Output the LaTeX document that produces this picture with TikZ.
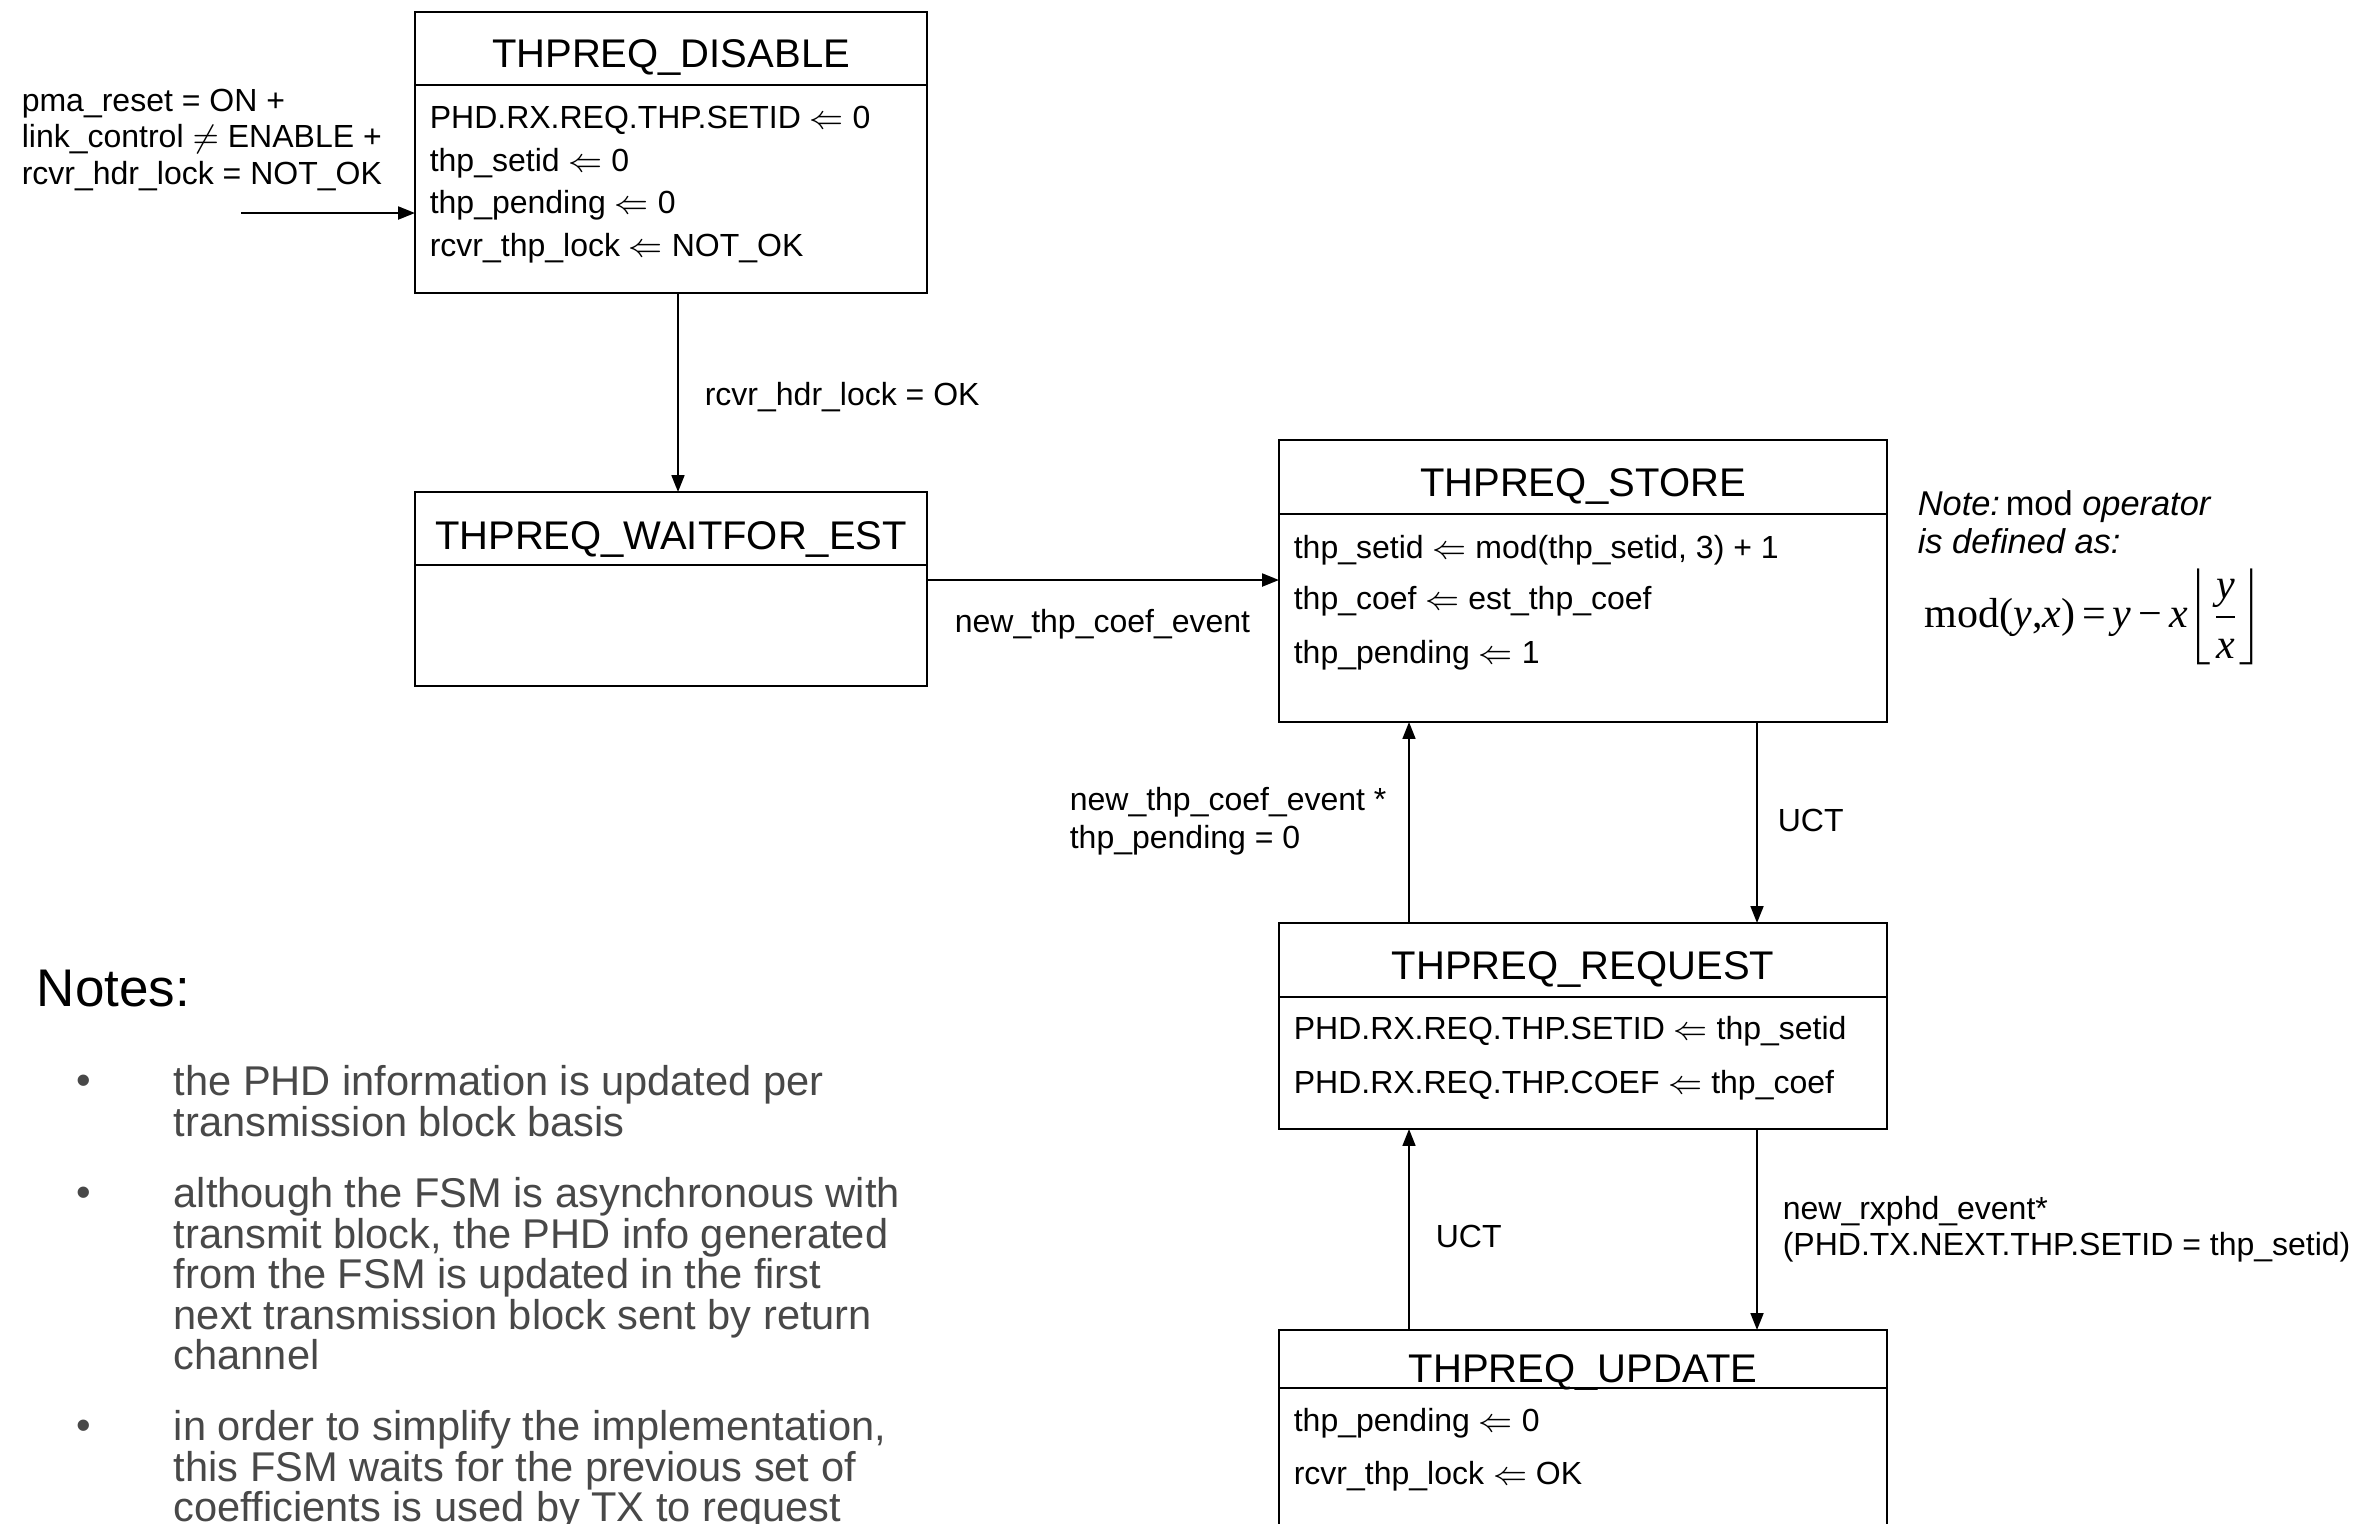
\documentclass[tikz,border=0pt]{standalone}
\usepackage{fontspec}
\setmainfont{Liberation Sans}
\newfontfamily\tmsfont{Liberation Serif}
\usetikzlibrary{arrows.meta,calc}
\definecolor{notegray}{RGB}{72,72,72}
\begin{document}
\begin{tikzpicture}[x=0.25pt,y=-0.25pt,
  stbox/.style={draw,line width=0.6pt,anchor=north west,inner sep=0pt,outer sep=0pt,minimum width=#1},
  divider/.style={line width=0.6pt},
  row/.style={anchor=west,inner sep=0pt,font=\fontsize{8}{9.6}\selectfont,text height=5.73pt,text depth=0pt},
  ttl/.style={anchor=center,inner sep=0pt,font=\fontsize{10}{12}\selectfont,text height=7.16pt,text depth=0pt},
  lbl/.style={anchor=north west,inner sep=0pt,align=left},
  arr/.style={-{Triangle[length=4.2pt,width=3.2pt]},line width=0.5pt},
  nb/.style={anchor=north west,inner sep=0pt,align=left,text=notegray,font=\fontsize{10.4}{10.1}\selectfont},
  dot/.style={anchor=west,inner sep=0pt,text=notegray,font=\fontsize{10.4}{10.1}\selectfont,text height=7.45pt,text depth=0pt}
]
\useasboundingbox (0,0) rectangle (2374,1523);
\clip (0,0) rectangle (2374,1523);

% ---------- state boxes ----------
\node[stbox=128pt,minimum height=70.25pt] (dis) at (415,12) {};
\node[stbox=128pt,minimum height=48.5pt] (wait) at (415,492) {};
\node[stbox=152pt,minimum height=70.5pt] (store) at (1279,440) {};
\node[stbox=152pt,minimum height=51.5pt] (req) at (1279,923) {};
\node[stbox=152pt,minimum height=57.5pt] (upd) at (1279,1330) {};

% dividers
\draw[divider] ($(dis.north west)+(0,73)$) -- ($(dis.north east)+(0,73)$);
\draw[divider] ($(wait.north west)+(0,73)$) -- ($(wait.north east)+(0,73)$);
\draw[divider] ($(store.north west)+(0,74)$) -- ($(store.north east)+(0,74)$);
\draw[divider] ($(req.north west)+(0,74)$) -- ($(req.north east)+(0,74)$);

% titles
\node[ttl] (disT) at ($(dis.north)+(0,41)$) {THPREQ\_DISABLE};
\node[ttl] (waitT) at ($(wait.north)+(0,43)$) {THPREQ\_WAITFOR\_EST};
\node[ttl] (storeT) at ($(store.north)+(0,42)$) {THPREQ\_STORE};
\node[ttl] (reqT) at ($(req.north)+(0,42)$) {THPREQ\_REQUEST};
\node[ttl] (updT) at ($(upd.north)+(0,38)$) {THPREQ\_UPDATE};
\draw[divider] ($(upd.north west)+(0,58)$) -- ($(upd.north east)+(0,58)$);

% rows
\node[row] (dis1) at ($(dis.north west)+(14,105)$) {PHD.RX.REQ.THP.SETID $\Leftarrow$ 0};
\node[row] (dis2) at ($(dis.north west)+(14,148)$) {thp\_setid $\Leftarrow$ 0};
\node[row] (dis3) at ($(dis.north west)+(14,190)$) {thp\_pending $\Leftarrow$ 0};
\node[row] (dis4) at ($(dis.north west)+(14,233)$) {rcvr\_thp\_lock $\Leftarrow$ NOT\_OK};

\node[row] (st1) at ($(store.north west)+(14,107)$) {thp\_setid $\Leftarrow$ mod(thp\_setid, 3) + 1};
\node[row] (st2) at ($(store.north west)+(14,158)$) {thp\_coef $\Leftarrow$ est\_thp\_coef};
\node[row] (st3) at ($(store.north west)+(14,212)$) {thp\_pending $\Leftarrow$ 1};

\node[row] (rq1) at ($(req.north west)+(14,105)$) {PHD.RX.REQ.THP.SETID $\Leftarrow$ thp\_setid};
\node[row] (rq2) at ($(req.north west)+(14,159)$) {PHD.RX.REQ.THP.COEF $\Leftarrow$ thp\_coef};

\node[row] (up1) at ($(upd.north west)+(14,90)$) {thp\_pending $\Leftarrow$ 0};
\node[row] (up2) at ($(upd.north west)+(14,143)$) {rcvr\_thp\_lock $\Leftarrow$ OK};

% ---------- connectors ----------
\coordinate (init) at (241,213);
\coordinate (xdw) at (678,0);
\coordinate (yws) at (0,580);
\coordinate (xl) at (1409,0);
\coordinate (xr) at (1757,0);

\draw[arr,line width=0.6pt] (init) -- (init -| dis.west);
\draw[arr] (dis.south -| xdw) -- (wait.north -| xdw);
\draw[arr,line width=0.6pt] (wait.east |- yws) -- (store.west |- yws);
\draw[arr] (store.south -| xr) -- (req.north -| xr);
\draw[arr] (req.north -| xl) -- (store.south -| xl);
\draw[arr] (req.south -| xr) -- (upd.north -| xr);
\draw[arr] (upd.north -| xl) -- (req.south -| xl);

% ---------- connector labels ----------
\node[lbl,font=\fontsize{8}{9.125}\selectfont] (lreset) at (21,88)
  {pma\_reset = ON +\\link\_control $\neq$ ENABLE +\\rcvr\_hdr\_lock = NOT\_OK};
\node[row] (lok) at (704,394) {rcvr\_hdr\_lock = OK};
\node[row] (lcoef) at (954,621) {new\_thp\_coef\_event};
\node[lbl,font=\fontsize{8}{9.6}\selectfont] (lcoef2) at (1069,786)
  {new\_thp\_coef\_event *\\thp\_pending = 0};
\node[row] (luct1) at (1777,820) {UCT};
\node[row] (luct2) at (1435,1236) {UCT};
\node[lbl,font=\fontsize{8}{9}\selectfont] (lrx) at (1782,1195)
  {new\_rxphd\_event*\\(PHD.TX.NEXT.THP.SETID = thp\_setid)};

% ---------- mod note ----------
\node[lbl,font=\fontsize{8.6}{9.5}\selectfont] (modnote) at (1917,490)
  {\textit{Note:}\,mod \textit{operator}\\\textit{is defined as:}};
\node[anchor=west,inner sep=0pt,font=\fontsize{10.5}{12}\selectfont\tmsfont] (modf) at (1924,617)
  {$\displaystyle \hbox{mod(\textit{y},\textit{x})\,=\,\textit{y}\,−\,\textit{x}}\mskip-3mu\left\lfloor\frac{\hbox{\textit{y}}}{\hbox{\textit{x}}}\right\rfloor$};

% ---------- notes ----------
\node[anchor=west,inner sep=0pt,font=\fontsize{13.25}{16}\selectfont,text height=9.49pt,text depth=0pt] (notes) at (36,987) {Notes:};
\node[dot] (b1) at (76,1080) {\textbullet};
\node[nb] (n1) at (173,1065) {the PHD information is updated per\\transmission block basis};
\node[dot] (b2) at (76,1192) {\textbullet};
\node[nb] (n2) at (173,1177) {although the FSM is asynchronous with\\transmit block, the PHD info generated\\from the FSM is updated in the first\\next transmission block sent by return\\channel};
\node[dot] (b3) at (76,1425) {\textbullet};
\node[nb] (n3) at (173,1410) {in order to simplify the implementation,\\this FSM waits for the previous set of\\coefficients is used by TX to request};
\end{tikzpicture}
\end{document}
